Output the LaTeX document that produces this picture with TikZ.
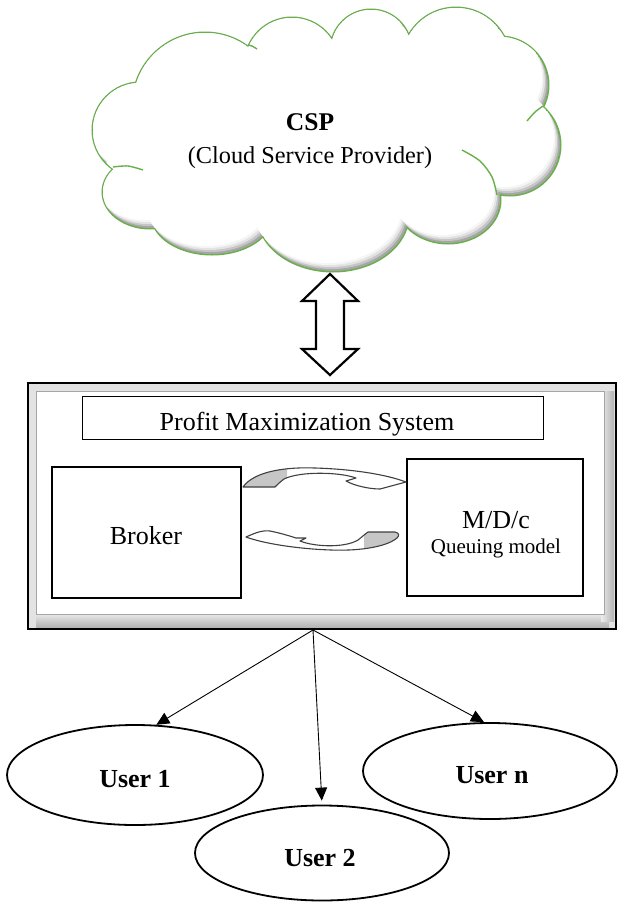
\documentclass[tikz,border=0pt]{standalone}
\usepackage{fontspec}
\setmainfont{Liberation Serif}
\usetikzlibrary{arrows.meta,shapes.geometric}
\definecolor{cloudgreen}{RGB}{105,175,75}
\tikzset{
  cloudp/.style={insert path={
    (205,105) ellipse[x radius=72pt, y radius=72pt]
    (292,65) ellipse[x radius=47pt, y radius=47pt]
    (371,50) ellipse[x radius=40pt, y radius=40pt]
    (456,62) ellipse[x radius=54pt, y radius=54pt]
    (500,85) ellipse[x radius=48pt, y radius=48pt]
    (510,145) ellipse[x radius=50pt, y radius=50pt]
    (448,200) ellipse[x radius=52pt, y radius=43pt]
    (333,215) ellipse[x radius=75pt, y radius=56pt]
    (212,215) ellipse[x radius=60pt, y radius=39pt]
    (150,192) ellipse[x radius=47pt, y radius=36pt]
    (140,130) ellipse[x radius=47pt, y radius=47pt]
    (330,140) ellipse[x radius=180pt, y radius=80pt]
  }},
  boxnode/.style={draw, rectangle, line width=1.8pt, inner sep=0pt},
  usernode/.style={draw, ellipse, line width=1.8pt, inner sep=0pt},
  plain/.style={font=\fontsize{26}{30}\selectfont, anchor=base, inner sep=0pt},
  boldtxt/.style={font=\fontsize{26}{30}\selectfont\bfseries, anchor=base, inner sep=0pt},
  conn/.style={line width=0.9pt, -{Triangle[length=13pt,width=12pt]}},
  curvarrow/.style={draw=black!75, line width=1.1pt, line join=round},
  cloudarc/.style={cloudgreen, line width=1.4pt}
}
\begin{document}
\begin{tikzpicture}[x=1pt,y=-1pt]
\useasboundingbox (0,0) rectangle (618,903);
\fill[white] (0,0) rectangle (618,903);

% ---------- cloud ----------
\draw[cloudgreen, line width=3pt, cloudp];
\begin{scope}
  \clip[cloudp];
  \fill[gray!70, cloudp];
  \fill[gray!45, shift={(-1.5,-2)}, cloudp];
  \fill[gray!22, shift={(-3,-4)}, cloudp];
  \fill[gray!8, shift={(-4.5,-6)}, cloudp];
  \fill[white, shift={(-6,-8)}, cloudp];
\end{scope}
\draw[cloudarc] plot[smooth] coordinates {(462,150) (480,161) (492,177) (497,195)};
\draw[cloudarc] plot[smooth] coordinates {(527,121) (535,112) (543,106)};
\draw[cloudarc] plot[smooth] coordinates {(113,167) (128,166) (143,170)};
\draw[cloudarc] plot[smooth] coordinates {(248,45) (252,46) (257,49)};

\node[font=\fontsize{25.5}{30}\selectfont\bfseries, anchor=base, inner sep=0pt] (csp) at (310,130) {CSP};
\node[font=\fontsize{24.3}{29}\selectfont, anchor=base, inner sep=0pt] (cspname) at (310,163) {(Cloud Service Provider)};

% ---------- double arrow ----------
\draw[line width=2.2pt, fill=white, line join=miter]
  (330,274) -- (358,301) -- (344,301) -- (344,349) -- (358,349) -- (330,375)
  -- (302,349) -- (316,349) -- (316,301) -- (302,301) -- cycle;

% ---------- outer system box ----------
\fill[gray!22] (28,383) rectangle (616,629);
\shade[top color=gray!15, bottom color=gray!60] (36,613) rectangle (609,627);
\shade[left color=gray!15, right color=gray!60] (601,391) rectangle (614,621);
\fill[white] (36,391) rectangle (604,614);
\draw[gray!70, line width=0.8pt] (36,391) rectangle (604,614);
\node[draw, line width=1.6pt, minimum width=588pt, minimum height=246pt, inner sep=0pt] (sys) at (322,506) {};

\node[draw, line width=1pt, minimum width=461pt, minimum height=43pt, inner sep=0pt] (title) at (312.5,417.5) {};
\node[plain] (titletxt) at (307,430) {Profit Maximization System};

\node[boxnode, minimum width=189pt, minimum height=131pt] (broker) at (146.5,532.5) {};
\node[plain] (brokertxt) at (146,544) {Broker};

\node[boxnode, minimum width=176pt, minimum height=137pt] (mdc) at (495,527.5) {};
\node[plain] (mdctxt) at (496,528) {M/D/c};
\node[font=\fontsize{21}{25}\selectfont, anchor=base, inner sep=0pt] (qtxt) at (496,553) {Queuing model};

% ---------- curved arrows ----------
\def\toparrow{(243,487)
  .. controls (255,470) and (290,467) .. (315,468)
  .. controls (350,469) and (385,474) .. (406,482)
  -- (380,489)
  .. controls (370,489) and (355,486) .. (346,481)
  -- (356,478)
  .. controls (340,472) and (300,471) .. (284,479)
  .. controls (280,482) and (277,485) .. (275,487)
  -- cycle}
\fill[white] \toparrow;
\begin{scope}
  \clip (230,450) rectangle (287,500);
  \fill[gray!45] \toparrow;
\end{scope}
\draw[curvarrow] \toparrow;

\def\botarrow{(368,532) -- (395,532)
  .. controls (400,533) and (399,536) .. (397,538)
  .. controls (385,548) and (355,551) .. (331,550)
  .. controls (300,549) and (265,544) .. (246,537)
  .. controls (255,533) and (262,530) .. (270,531)
  .. controls (280,533) and (290,536) .. (296,538)
  -- (306,538)
  -- (300,541)
  .. controls (315,547) and (345,548) .. (358,540)
  .. controls (362,537) and (365,534) .. (368,532)
  -- cycle}
\fill[white] \botarrow;
\begin{scope}
  \clip (364,520) rectangle (410,560);
  \fill[gray!45] \botarrow;
\end{scope}
\draw[curvarrow] \botarrow;

% ---------- users ----------
\node[usernode, minimum width=256pt, minimum height=100pt] (u1) at (135,775) {};
\node[boldtxt] (u1t) at (135,787) {User 1};
\node[usernode, minimum width=254pt, minimum height=96pt] (un) at (490,771) {};
\node[boldtxt] (unt) at (492,783) {User n};
\node[usernode, minimum width=254pt, minimum height=95pt] (u2) at (322,853) {};
\node[boldtxt] (u2t) at (320,866) {User 2};

\coordinate (src) at (313,630);
\draw[conn] (src) -- (u1.67);
\draw[conn, shorten >=4pt] (src) -- (u2.north);
\draw[conn] (src) -- (un.97);
\end{tikzpicture}
\end{document}
